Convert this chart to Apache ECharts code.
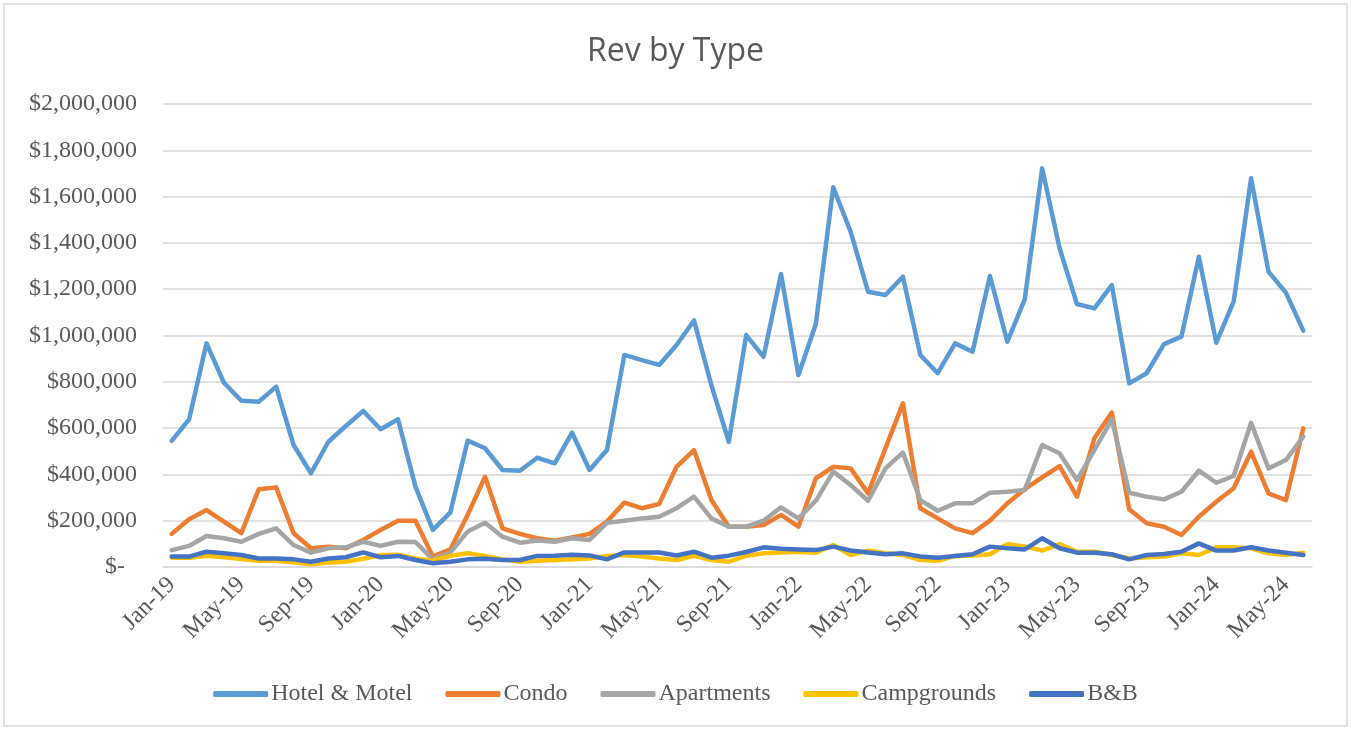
<!DOCTYPE html>
<html>
<head>
<meta charset="utf-8">
<script src="https://cdn.jsdelivr.net/npm/echarts@6/dist/echarts.min.js"></script>
<style>
html,body{margin:0;padding:0;background:#fff;}
#chart{width:1351px;height:729px;}
</style>
</head>
<body>
<div id="chart"></div>
<script>
const categories = [
 'Jan-19','Feb-19','Mar-19','Apr-19','May-19','Jun-19','Jul-19','Aug-19','Sep-19','Oct-19','Nov-19','Dec-19',
 'Jan-20','Feb-20','Mar-20','Apr-20','May-20','Jun-20','Jul-20','Aug-20','Sep-20','Oct-20','Nov-20','Dec-20',
 'Jan-21','Feb-21','Mar-21','Apr-21','May-21','Jun-21','Jul-21','Aug-21','Sep-21','Oct-21','Nov-21','Dec-21',
 'Jan-22','Feb-22','Mar-22','Apr-22','May-22','Jun-22','Jul-22','Aug-22','Sep-22','Oct-22','Nov-22','Dec-22',
 'Jan-23','Feb-23','Mar-23','Apr-23','May-23','Jun-23','Jul-23','Aug-23','Sep-23','Oct-23','Nov-23','Dec-23',
 'Jan-24','Feb-24','Mar-24','Apr-24','May-24','Jun-24'
];
const hotelMotel = [
 545000,638000,966000,796000,718000,714000,779000,527000,405000,541000,609000,674000,
 595000,638000,347000,160000,235000,546000,513000,419000,416000,472000,448000,580000,
 419000,505000,916000,894000,873000,959000,1065000,785000,541000,1002000,908000,1266000,
 829000,1050000,1640000,1448000,1189000,1175000,1254000,916000,837000,966000,930000,1257000,
 973000,1156000,1722000,1377000,1136000,1117000,1218000,793000,837000,963000,995000,1340000,
 969000,1146000,1679000,1276000,1185000,1021000
];
const condo = [
 143000,206000,246000,196000,146000,336000,344000,146000,81000,88000,81000,117000,
 160000,200000,200000,45000,76000,225000,390000,167000,143000,124000,114000,128000,
 143000,196000,278000,254000,272000,433000,505000,289000,174000,174000,181000,225000,
 174000,383000,433000,426000,318000,513000,707000,254000,210000,167000,146000,200000,
 275000,336000,387000,436000,304000,556000,667000,249000,189000,174000,138000,217000,
 282000,340000,498000,318000,289000,599000
];
const apartments = [
 73000,91000,134000,124000,109000,143000,167000,95000,62000,81000,85000,109000,
 91000,109000,108000,33000,62000,153000,191000,131000,105000,114000,109000,124000,
 117000,191000,200000,210000,217000,254000,304000,210000,174000,174000,200000,258000,
 210000,286000,412000,354000,286000,426000,494000,289000,243000,275000,275000,321000,
 325000,333000,527000,491000,376000,505000,638000,321000,304000,292000,325000,416000,
 364000,393000,623000,426000,462000,563000
];
const campgrounds = [
 40000,40000,49000,42000,35000,27000,27000,19000,12000,19000,23000,35000,
 52000,53000,37000,27000,48000,59000,48000,33000,23000,27000,30000,33000,
 37000,48000,52000,45000,37000,30000,48000,30000,23000,48000,59000,63000,
 66000,62000,95000,52000,71000,59000,52000,30000,27000,48000,50000,55000,
 99000,88000,71000,99000,66000,66000,52000,37000,42000,45000,59000,52000,
 85000,85000,81000,59000,52000,62000
];
const bnb = [
 45000,45000,66000,59000,52000,37000,37000,33000,23000,37000,42000,63000,
 42000,48000,30000,16000,23000,33000,36000,30000,30000,48000,49000,53000,
 50000,33000,63000,63000,63000,50000,66000,40000,49000,65000,85000,79000,
 76000,73000,88000,71000,63000,55000,59000,45000,40000,48000,55000,88000,
 81000,76000,124000,81000,62000,62000,55000,33000,52000,56000,66000,102000,
 71000,71000,85000,71000,62000,52000
];
const seriesNames = ['Hotel & Motel','Condo','Apartments','Campgrounds','B&B'];
const seriesColors = ['#5B9BD5','#ED7D31','#A5A5A5','#FFC000','#4472C4'];
const seriesData = [hotelMotel, condo, apartments, campgrounds, bnb];

const chart = echarts.init(document.getElementById('chart'));
const serif = '"Liberation Serif", "Times New Roman", serif';
const option = {
  backgroundColor: '#ffffff',
  animation: false,
  title: {
    text: 'Rev by Type',
    left: 'center',
    top: 31,
    textStyle: { fontFamily: '"Open Sans", "Noto Sans", sans-serif', fontSize: 32, fontWeight: 'normal', color: '#595959' }
  },
  graphic: [{
    type: 'rect',
    shape: { x: 4, y: 4, width: 1343, height: 722 },
    style: { fill: 'none', stroke: '#d9d9d9', lineWidth: 1.5 },
    silent: true
  }],
  legend: {
    data: seriesNames,
    bottom: 18,
    left: 'center',
    itemGap: 33,
    itemWidth: 55,
    itemHeight: 6,
    icon: 'roundRect',
    textStyle: { fontFamily: serif, fontSize: 24, color: '#595959', padding: [0,0,0,-2] }
  },
  grid: { left: 163, right: 39, top: 104, bottom: 162, containLabel: false },
  xAxis: {
    type: 'category',
    data: categories,
    boundaryGap: true,
    axisLine: { show: true, lineStyle: { color: '#d9d9d9', width: 1.5 } },
    axisTick: { show: false },
    axisLabel: {
      interval: 3,
      rotate: 45,
      margin: 14,
      fontFamily: serif,
      fontSize: 24,
      color: '#595959'
    },
    splitLine: { show: false }
  },
  yAxis: {
    type: 'value',
    min: 0,
    max: 2000000,
    interval: 200000,
    axisLine: { show: false },
    axisTick: { show: false },
    axisLabel: {
      margin: 26,
      fontFamily: serif,
      fontSize: 24,
      color: '#595959',
      formatter: function (v) {
        if (v === 0) return '$-  ';
        return '$' + v.toLocaleString('en-US');
      }
    },
    splitLine: { show: true, lineStyle: { color: '#d9d9d9', width: 1.5 } }
  },
  series: seriesNames.map((name, i) => ({
    name: name,
    type: 'line',
    data: seriesData[i],
    symbol: 'none',
    showSymbol: false,
    smooth: false,
    z: i === 4 ? 3 : 2,
    lineStyle: { color: seriesColors[i], width: 4.5, join: 'round', cap: 'round' },
    itemStyle: { color: seriesColors[i] }
  }))
};
chart.setOption(option);
</script>
</body>
</html>
